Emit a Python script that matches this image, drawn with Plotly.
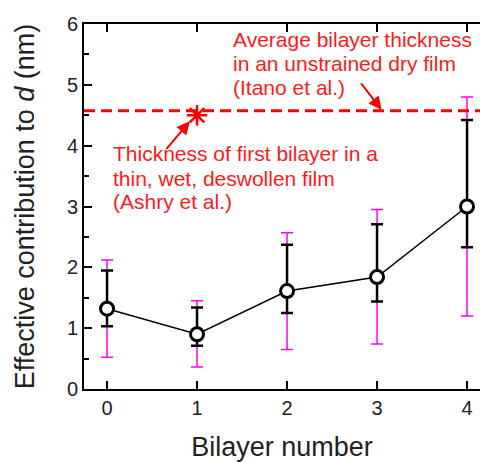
import plotly.graph_objects as go

bilayer = [0, 1, 2, 3, 4]
contribution = [1.32, 0.90, 1.61, 1.84, 3.00]
black_err_plus = [0.63, 0.44, 0.76, 0.87, 1.42]
black_err_minus = [0.29, 0.19, 0.36, 0.40, 0.67]
mag_err_plus = [0.80, 0.55, 0.96, 1.11, 1.80]
mag_err_minus = [0.80, 0.54, 0.96, 1.10, 1.80]
avg_thickness = 4.575
first_bilayer_x = [1]
first_bilayer_y = [4.50]

note_itano = ["Average bilayer thickness", "in an unstrained dry film", "(Itano et al.)"]
note_itano_y = [5.748, 5.351, 4.951]
note_ashry = ["Thickness of first bilayer in a", "thin, wet, deswollen film", "(Ashry et al.)"]
note_ashry_y = [3.864, 3.464, 3.080]

fig = go.Figure()
fig.add_trace(go.Scatter(
    x=bilayer, y=contribution, mode="markers",
    marker=dict(size=1, color="rgba(0,0,0,0)"),
    error_y=dict(type="data", symmetric=False, array=mag_err_plus, arrayminus=mag_err_minus,
                 color="#ff00ff", thickness=1.5, width=6),
    showlegend=False, hoverinfo="skip"))
fig.add_trace(go.Scatter(
    x=bilayer, y=contribution, mode="markers",
    marker=dict(size=1, color="rgba(0,0,0,0)"),
    error_y=dict(type="data", symmetric=False, array=black_err_plus, arrayminus=black_err_minus,
                 color="black", thickness=2.5, width=6),
    showlegend=False, hoverinfo="skip"))
fig.add_trace(go.Scatter(
    x=bilayer, y=contribution, mode="lines+markers",
    line=dict(color="black", width=1.5),
    marker=dict(symbol="circle", size=13, color="white", line=dict(color="black", width=3)),
    showlegend=False))
fig.add_trace(go.Scatter(
    x=first_bilayer_x, y=first_bilayer_y, mode="markers",
    marker=dict(symbol="asterisk-open", size=17, color="red", line=dict(color="red", width=2.5)),
    showlegend=False))

fig.add_shape(type="line", xref="paper", x0=0, x1=1, yref="y", y0=avg_thickness, y1=avg_thickness,
              line=dict(color="red", width=3, dash="11px,6px"), layer="above")

red = "#ff1a1a"
ann_font = dict(family="Liberation Sans, Arial", size=21, color=red)
for txt, yy in zip(note_itano, note_itano_y):
    fig.add_annotation(x=1.38, y=yy, xref="x", yref="y", xanchor="left", yanchor="middle",
                       text=txt, showarrow=False, font=ann_font)
for txt, yy in zip(note_ashry, note_ashry_y):
    fig.add_annotation(x=0.044, y=yy, xref="x", yref="y", xanchor="left", yanchor="middle",
                       text=txt, showarrow=False, font=ann_font)
fig.add_annotation(x=3.05, y=4.59, ax=2.81, ay=5.05, xref="x", yref="y", axref="x", ayref="y",
                   text="", showarrow=True, arrowhead=2, arrowsize=1.3, arrowwidth=2, arrowcolor="red",
                   standoff=0, startstandoff=0)
fig.add_annotation(x=0.92, y=4.40, ax=0.644, ay=3.92, xref="x", yref="y", axref="x", ayref="y",
                   text="", showarrow=True, arrowhead=2, arrowsize=1.3, arrowwidth=2, arrowcolor="red",
                   standoff=0, startstandoff=0)

axis_font = dict(family="Liberation Sans, Arial", size=20, color="#222")
title_font = dict(family="Liberation Sans, Arial", size=27, color="#222")
fig.update_xaxes(range=[-0.256, 4.144], tickvals=bilayer, ticktext=[str(v) for v in bilayer],
                 ticks="inside", ticklen=8, tickwidth=2, tickcolor="black",
                 showline=True, linecolor="black", linewidth=2, mirror="ticks",
                 showgrid=False, zeroline=False, tickfont=axis_font,
                 title=dict(text="Bilayer number", font=title_font, standoff=24))
fig.update_yaxes(range=[0, 6], tickvals=[0, 1, 2, 3, 4, 5, 6],
                 ticks="inside", ticklen=8, tickwidth=2, tickcolor="black",
                 minor=dict(ticks="inside", ticklen=5, tickwidth=2, dtick=0.5, tickcolor="black"),
                 showline=True, linecolor="black", linewidth=2,
                 showgrid=False, zeroline=False, tickfont=axis_font,
                 title=dict(text="Effective contribution to <i>d</i> (nm)", font=title_font, standoff=24))
fig.update_layout(width=480, height=462, margin=dict(l=84, r=0, t=24, b=71),
                  plot_bgcolor="white", paper_bgcolor="white")
fig.write_html("out.html")
